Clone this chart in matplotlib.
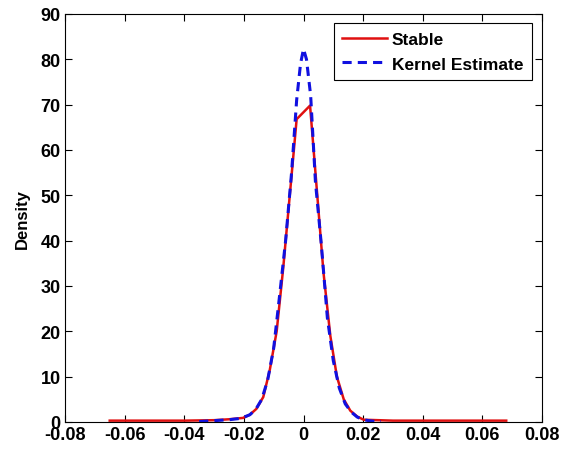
import matplotlib
matplotlib.use("Agg")
import matplotlib.pyplot as plt

plt.rcParams['font.family'] = ['Liberation Sans', 'DejaVu Sans']

# stable density
stable_x = [-0.065, -0.05, -0.04, -0.03, -0.025, -0.0203, -0.018, -0.0158, -0.0135,
            -0.0113, -0.009, -0.0068, -0.0023, 0.0022, 0.0067, 0.009, 0.0112, 0.0135,
            0.0157, 0.018, 0.0202, 0.03, 0.04, 0.05, 0.06, 0.068]
stable_y = [0.3, 0.3, 0.3, 0.4, 0.6, 0.9, 1.6, 2.9, 5.5,
            11.5, 20, 34, 66.8, 69.8, 33, 19, 10, 5,
            2.5, 1.2, 0.5, 0.3, 0.3, 0.3, 0.3, 0.3]

# kernel estimate
kernel_x = [-0.035, -0.03, -0.025, -0.021, -0.018, -0.016, -0.014, -0.012, -0.010,
            -0.008, -0.006, -0.004, -0.0023, -0.001, 0.0, 0.001, 0.0024, 0.004,
            0.006, 0.008, 0.010, 0.012, 0.014, 0.016, 0.018, 0.020, 0.023, 0.026]
kernel_y = [0.1, 0.3, 0.5, 0.8, 1.6, 2.8, 5.0, 9.3, 16.3,
            28, 40, 55, 71, 79, 82.3, 80, 72, 53,
            39, 23, 13.5, 7.5, 4.0, 2.2, 1.1, 0.5, 0.2, 0.1]

xticks = [-0.08, -0.06, -0.04, -0.02, 0, 0.02, 0.04, 0.06, 0.08]
xticklabels = ['-0.08', '-0.06', '-0.04', '-0.02', '0', '0.02', '0.04', '0.06', '0.08']
yticks = [0, 10, 20, 30, 40, 50, 60, 70, 80, 90]

fig = plt.figure(figsize=(5.68, 4.52), dpi=100)
ax = fig.add_axes([65 / 568, 29 / 452, 477 / 568, 408 / 452])

ax.plot(stable_x, stable_y, color='#e01010', lw=1.8, label='Stable')
ax.plot(kernel_x, kernel_y, color='#1010e0', lw=2.2, ls=(0, (3, 2)), label='Kernel Estimate')

ax.set_xlim(-0.08, 0.08)
ax.set_ylim(0, 90)
ax.set_xticks(xticks)
ax.set_xticklabels(xticklabels)
ax.set_yticks(yticks)
ax.tick_params(direction='in', top=True, right=True, length=5, labelsize=13, pad=3)
for lab in ax.get_xticklabels() + ax.get_yticklabels():
    lab.set_fontweight('bold')
ax.set_ylabel('Density', fontsize=12, fontweight='bold', labelpad=8)

leg = ax.legend(loc='upper right', bbox_to_anchor=(0.979, 0.978), borderaxespad=0,
                fancybox=False, edgecolor='black', framealpha=1, handlelength=2.6,
                prop={'size': 12.5, 'weight': 'bold'}, borderpad=0.5, labelspacing=0.55,
                handletextpad=0.25)
leg.get_frame().set_linewidth(0.8)

fig.savefig('out.png', dpi=100)
